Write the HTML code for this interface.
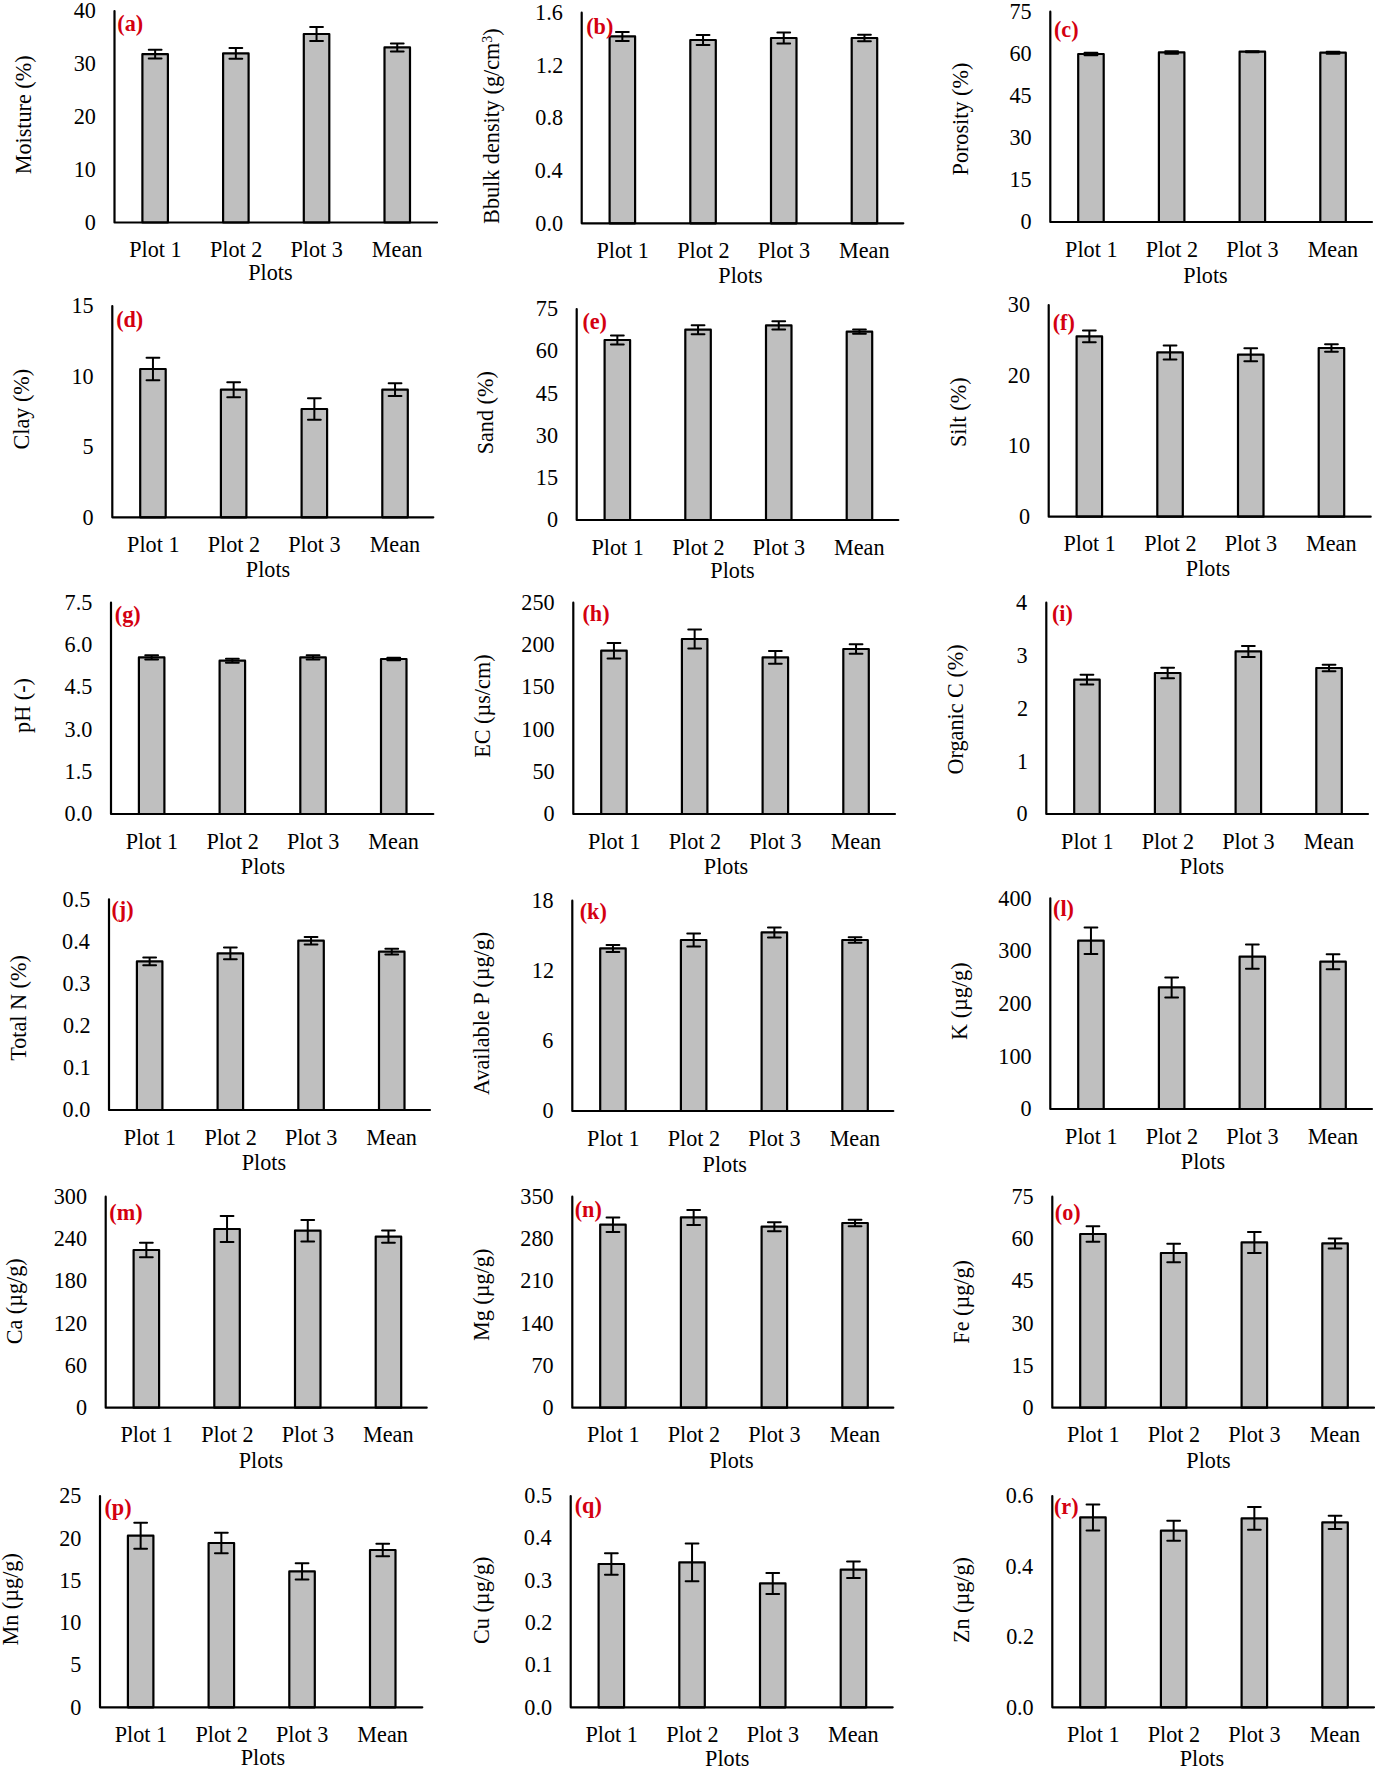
<!DOCTYPE html>
<html><head><meta charset="utf-8"><style>
html,body{margin:0;padding:0;background:#fff;}
svg{display:block;}
text{font-family:"Liberation Serif",serif;font-size:22.2px;fill:#000;}
.lt{font-weight:bold;fill:#d40010;}
.bar{fill:#bfbfbf;stroke:#000;stroke-width:2.2;stroke-linejoin:round;}
.eb{fill:none;stroke:#000;stroke-width:2;stroke-linecap:round;}
.ax{fill:none;stroke:#000;stroke-width:2.2;stroke-linejoin:round;stroke-linecap:round;}
</style></head><body>
<svg width="1378" height="1772" viewBox="0 0 1378 1772">
<text x="84.75" y="229.77">0</text>
<text x="73.65" y="176.9">10</text>
<text x="73.65" y="124.02">20</text>
<text x="73.65" y="71.15">30</text>
<text x="73.65" y="18.27">40</text>
<rect x="142.4" y="54.2" width="25.5" height="168.3" class="bar"/>
<path d="M148.75 49.85H161.55M148.75 58.55H161.55M155.15 49.85V58.55" class="eb"/>
<rect x="223.1" y="53.4" width="25.5" height="169.1" class="bar"/>
<path d="M229.45 48.1H242.25M229.45 58.7H242.25M235.85 48.1V58.7" class="eb"/>
<rect x="303.8" y="34" width="25.5" height="188.5" class="bar"/>
<path d="M310.15 27H322.95M310.15 41H322.95M316.55 27V41" class="eb"/>
<rect x="384.5" y="47.4" width="25.5" height="175.1" class="bar"/>
<path d="M390.85 43.4H403.65M390.85 51.4H403.65M397.25 43.4V51.4" class="eb"/>
<path d="M114.5 11V222.5H437" class="ax"/>
<text x="129.28" y="257">Plot 1</text>
<text x="209.93" y="257">Plot 2</text>
<text x="290.45" y="257">Plot 3</text>
<text x="371.83" y="257">Mean</text>
<text x="248.17" y="280">Plots</text>
<text transform="translate(25.8 115) rotate(-90)" x="-59.33" y="5.34">Moisture (%)</text>
<text class="lt" x="117.36" y="31.24">(a)</text>
<text x="535.3" y="230.52">0.0</text>
<text x="534.8" y="177.87">0.4</text>
<text x="535.3" y="125.22">0.8</text>
<text x="535.67" y="72.54">1.2</text>
<text x="535.11" y="19.89">1.6</text>
<rect x="609.6" y="36.4" width="25.5" height="186.9" class="bar"/>
<path d="M615.95 31.9H628.75M615.95 40.9H628.75M622.35 31.9V40.9" class="eb"/>
<rect x="690.3" y="40" width="25.5" height="183.3" class="bar"/>
<path d="M696.65 35H709.45M696.65 45H709.45M703.05 35V45" class="eb"/>
<rect x="771" y="38" width="25.5" height="185.3" class="bar"/>
<path d="M777.35 32.5H790.15M777.35 43.5H790.15M783.75 32.5V43.5" class="eb"/>
<rect x="851.7" y="38" width="25.5" height="185.3" class="bar"/>
<path d="M858.05 34.8H870.85M858.05 41.2H870.85M864.45 34.8V41.2" class="eb"/>
<path d="M581.7 12.7V223.3H903.3" class="ax"/>
<text x="596.48" y="257.8">Plot 1</text>
<text x="677.13" y="257.8">Plot 2</text>
<text x="757.65" y="257.8">Plot 3</text>
<text x="839.03" y="257.8">Mean</text>
<text x="718.37" y="283">Plots</text>
<text transform="translate(493.8 124.2) rotate(-90)" x="-99.72" y="5.31">Bbulk density (g/cm<tspan font-size="14" dy="-7">3</tspan><tspan dy="7">)</tspan></text>
<text class="lt" x="586.23" y="33.64">(b)</text>
<text x="1020.55" y="229.27">0</text>
<text x="1009.47" y="187.16">15</text>
<text x="1009.45" y="145.15">30</text>
<text x="1009.47" y="103.02">45</text>
<text x="1009.45" y="61.03">60</text>
<text x="1009.47" y="18.86">75</text>
<rect x="1078.2" y="54" width="25.5" height="168" class="bar"/>
<path d="M1084.55 52.65H1097.35M1084.55 55.35H1097.35M1090.95 52.65V55.35" class="eb"/>
<rect x="1158.9" y="52.4" width="25.5" height="169.6" class="bar"/>
<path d="M1165.25 51.15H1178.05M1165.25 53.65H1178.05M1171.65 51.15V53.65" class="eb"/>
<rect x="1239.6" y="51.7" width="25.5" height="170.3" class="bar"/>
<path d="M1245.95 51.2H1258.75M1245.95 52.2H1258.75M1252.35 51.2V52.2" class="eb"/>
<rect x="1320.3" y="52.7" width="25.5" height="169.3" class="bar"/>
<path d="M1326.65 51.7H1339.45M1326.65 53.7H1339.45M1333.05 51.7V53.7" class="eb"/>
<path d="M1050.3 11.7V222H1372" class="ax"/>
<text x="1065.08" y="256.5">Plot 1</text>
<text x="1145.73" y="256.5">Plot 2</text>
<text x="1226.25" y="256.5">Plot 3</text>
<text x="1307.63" y="256.5">Mean</text>
<text x="1183.37" y="282.7">Plots</text>
<text transform="translate(962.2 119.2) rotate(-90)" x="-56.25" y="5.31">Porosity (%)</text>
<text class="lt" x="1053.98" y="36.84">(c)</text>
<text x="82.55" y="524.57">0</text>
<text x="82.57" y="454.03">5</text>
<text x="71.45" y="383.71">10</text>
<text x="71.47" y="313.22">15</text>
<rect x="140.2" y="369" width="25.5" height="148.3" class="bar"/>
<path d="M146.55 357.7H159.35M146.55 380.3H159.35M152.95 357.7V380.3" class="eb"/>
<rect x="220.9" y="389.7" width="25.5" height="127.6" class="bar"/>
<path d="M227.25 382.2H240.05M227.25 397.2H240.05M233.65 382.2V397.2" class="eb"/>
<rect x="301.6" y="409" width="25.5" height="108.3" class="bar"/>
<path d="M307.95 398.35H320.75M307.95 419.65H320.75M314.35 398.35V419.65" class="eb"/>
<rect x="382.3" y="389.7" width="25.5" height="127.6" class="bar"/>
<path d="M388.65 383.35H401.45M388.65 396.05H401.45M395.05 383.35V396.05" class="eb"/>
<path d="M112.3 306V517.3H433.3" class="ax"/>
<text x="127.08" y="551.8">Plot 1</text>
<text x="207.73" y="551.8">Plot 2</text>
<text x="288.25" y="551.8">Plot 3</text>
<text x="369.63" y="551.8">Mean</text>
<text x="245.87" y="576.7">Plots</text>
<text transform="translate(23.7 409.2) rotate(-90)" x="-40.35" y="5.31">Clay (%)</text>
<text class="lt" x="116.13" y="327.04">(d)</text>
<text x="546.95" y="527.27">0</text>
<text x="535.87" y="485.02">15</text>
<text x="535.85" y="442.87">30</text>
<text x="535.87" y="400.6">45</text>
<text x="535.85" y="358.47">60</text>
<text x="535.87" y="316.16">75</text>
<rect x="604.6" y="340" width="25.5" height="180" class="bar"/>
<path d="M610.95 335.5H623.75M610.95 344.5H623.75M617.35 335.5V344.5" class="eb"/>
<rect x="685.3" y="329.7" width="25.5" height="190.3" class="bar"/>
<path d="M691.65 325.2H704.45M691.65 334.2H704.45M698.05 325.2V334.2" class="eb"/>
<rect x="766" y="325.4" width="25.5" height="194.6" class="bar"/>
<path d="M772.35 321.25H785.15M772.35 329.55H785.15M778.75 321.25V329.55" class="eb"/>
<rect x="846.7" y="331.7" width="25.5" height="188.3" class="bar"/>
<path d="M853.05 329.55H865.85M853.05 333.85H865.85M859.45 329.55V333.85" class="eb"/>
<path d="M576.7 309V520H898.3" class="ax"/>
<text x="591.48" y="554.5">Plot 1</text>
<text x="672.13" y="554.5">Plot 2</text>
<text x="752.65" y="554.5">Plot 3</text>
<text x="834.03" y="554.5">Mean</text>
<text x="710.37" y="578.3">Plots</text>
<text transform="translate(487.8 412.5) rotate(-90)" x="-41.87" y="5.34">Sand (%)</text>
<text class="lt" x="582.38" y="329.14">(e)</text>
<text x="1018.95" y="523.97">0</text>
<text x="1007.85" y="453.41">10</text>
<text x="1007.85" y="382.84">20</text>
<text x="1007.85" y="312.27">30</text>
<rect x="1076.6" y="336.4" width="25.5" height="180.3" class="bar"/>
<path d="M1082.95 330.55H1095.75M1082.95 342.25H1095.75M1089.35 330.55V342.25" class="eb"/>
<rect x="1157.3" y="352.4" width="25.5" height="164.3" class="bar"/>
<path d="M1163.65 345.4H1176.45M1163.65 359.4H1176.45M1170.05 345.4V359.4" class="eb"/>
<rect x="1238" y="354.7" width="25.5" height="162" class="bar"/>
<path d="M1244.35 348.2H1257.15M1244.35 361.2H1257.15M1250.75 348.2V361.2" class="eb"/>
<rect x="1318.7" y="348" width="25.5" height="168.7" class="bar"/>
<path d="M1325.05 344.15H1337.85M1325.05 351.85H1337.85M1331.45 344.15V351.85" class="eb"/>
<path d="M1048.7 305V516.7H1370.7" class="ax"/>
<text x="1063.48" y="551.2">Plot 1</text>
<text x="1144.13" y="551.2">Plot 2</text>
<text x="1224.65" y="551.2">Plot 3</text>
<text x="1306.03" y="551.2">Mean</text>
<text x="1185.87" y="576">Plots</text>
<text transform="translate(960.2 412) rotate(-90)" x="-35.09" y="5.34">Silt (%)</text>
<text class="lt" x="1052.71" y="330.45">(f)</text>
<text x="64.6" y="821.22">0.0</text>
<text x="64.62" y="778.91">1.5</text>
<text x="64.6" y="736.7">3.0</text>
<text x="64.62" y="694.37">4.5</text>
<text x="64.6" y="652.18">6.0</text>
<text x="64.62" y="609.81">7.5</text>
<rect x="138.9" y="657.4" width="25.5" height="156.6" class="bar"/>
<path d="M145.25 655.25H158.05M145.25 659.55H158.05M151.65 655.25V659.55" class="eb"/>
<rect x="219.6" y="660.7" width="25.5" height="153.3" class="bar"/>
<path d="M225.95 658.7H238.75M225.95 662.7H238.75M232.35 658.7V662.7" class="eb"/>
<rect x="300.3" y="657.4" width="25.5" height="156.6" class="bar"/>
<path d="M306.65 655.25H319.45M306.65 659.55H319.45M313.05 655.25V659.55" class="eb"/>
<rect x="381" y="659" width="25.5" height="155" class="bar"/>
<path d="M387.35 657.65H400.15M387.35 660.35H400.15M393.75 657.65V660.35" class="eb"/>
<path d="M111 602.7V814H433.3" class="ax"/>
<text x="125.78" y="848.5">Plot 1</text>
<text x="206.43" y="848.5">Plot 2</text>
<text x="286.95" y="848.5">Plot 3</text>
<text x="368.33" y="848.5">Mean</text>
<text x="240.87" y="873.5">Plots</text>
<text transform="translate(25 705.8) rotate(-90)" x="-27.12" y="5.34">pH (-)</text>
<text class="lt" x="114.86" y="621.95">(g)</text>
<text x="543.55" y="821.27">0</text>
<text x="532.45" y="779.01">50</text>
<text x="521.35" y="736.75">100</text>
<text x="521.35" y="694.49">150</text>
<text x="521.35" y="652.23">200</text>
<text x="521.35" y="609.97">250</text>
<rect x="601.2" y="650.7" width="25.5" height="163.3" class="bar"/>
<path d="M607.55 642.9H620.35M607.55 658.5H620.35M613.95 642.9V658.5" class="eb"/>
<rect x="681.9" y="639" width="25.5" height="175" class="bar"/>
<path d="M688.25 629.5H701.05M688.25 648.5H701.05M694.65 629.5V648.5" class="eb"/>
<rect x="762.6" y="657.4" width="25.5" height="156.6" class="bar"/>
<path d="M768.95 651.1H781.75M768.95 663.7H781.75M775.35 651.1V663.7" class="eb"/>
<rect x="843.3" y="649" width="25.5" height="165" class="bar"/>
<path d="M849.65 644.35H862.45M849.65 653.65H862.45M856.05 644.35V653.65" class="eb"/>
<path d="M573.3 602.7V814H895" class="ax"/>
<text x="588.08" y="848.5">Plot 1</text>
<text x="668.73" y="848.5">Plot 2</text>
<text x="749.25" y="848.5">Plot 3</text>
<text x="830.63" y="848.5">Mean</text>
<text x="703.87" y="873.5">Plots</text>
<text transform="translate(485 706.3) rotate(-90)" x="-51.54" y="5.34">EC (µs/cm)</text>
<text class="lt" x="582.43" y="621.14">(h)</text>
<text x="1016.55" y="821.27">0</text>
<text x="1017.03" y="768.5">1</text>
<text x="1016.92" y="715.7">2</text>
<text x="1016.57" y="662.77">3</text>
<text x="1016.05" y="610.01">4</text>
<rect x="1074.2" y="679.7" width="25.5" height="134.3" class="bar"/>
<path d="M1080.55 674.85H1093.35M1080.55 684.55H1093.35M1086.95 674.85V684.55" class="eb"/>
<rect x="1154.9" y="673" width="25.5" height="141" class="bar"/>
<path d="M1161.25 667.7H1174.05M1161.25 678.3H1174.05M1167.65 667.7V678.3" class="eb"/>
<rect x="1235.6" y="651.4" width="25.5" height="162.6" class="bar"/>
<path d="M1241.95 645.9H1254.75M1241.95 656.9H1254.75M1248.35 645.9V656.9" class="eb"/>
<rect x="1316.3" y="668" width="25.5" height="146" class="bar"/>
<path d="M1322.65 664.65H1335.45M1322.65 671.35H1335.45M1329.05 664.65V671.35" class="eb"/>
<path d="M1046.3 602.7V814H1368" class="ax"/>
<text x="1061.08" y="848.5">Plot 1</text>
<text x="1141.73" y="848.5">Plot 2</text>
<text x="1222.25" y="848.5">Plot 3</text>
<text x="1303.63" y="848.5">Mean</text>
<text x="1179.87" y="873.5">Plots</text>
<text transform="translate(957.7 709.2) rotate(-90)" x="-65.31" y="5.31">Organic C (%)</text>
<text class="lt" x="1051.92" y="620.84">(i)</text>
<text x="62.6" y="1117.22">0.0</text>
<text x="63.08" y="1075.08">0.1</text>
<text x="62.97" y="1032.94">0.2</text>
<text x="62.62" y="990.8">0.3</text>
<text x="62.1" y="948.66">0.4</text>
<text x="62.62" y="906.52">0.5</text>
<rect x="136.9" y="961.4" width="25.5" height="148.6" class="bar"/>
<path d="M143.25 957.6H156.05M143.25 965.2H156.05M149.65 957.6V965.2" class="eb"/>
<rect x="217.6" y="953.4" width="25.5" height="156.6" class="bar"/>
<path d="M223.95 947.6H236.75M223.95 959.2H236.75M230.35 947.6V959.2" class="eb"/>
<rect x="298.3" y="940.7" width="25.5" height="169.3" class="bar"/>
<path d="M304.65 936.9H317.45M304.65 944.5H317.45M311.05 936.9V944.5" class="eb"/>
<rect x="379" y="951.7" width="25.5" height="158.3" class="bar"/>
<path d="M385.35 948.85H398.15M385.35 954.55H398.15M391.75 948.85V954.55" class="eb"/>
<path d="M109 899.3V1110H430" class="ax"/>
<text x="123.78" y="1144.5">Plot 1</text>
<text x="204.43" y="1144.5">Plot 2</text>
<text x="284.95" y="1144.5">Plot 3</text>
<text x="366.33" y="1144.5">Mean</text>
<text x="241.67" y="1170">Plots</text>
<text transform="translate(20.3 1007.5) rotate(-90)" x="-53.34" y="5.34">Total N (%)</text>
<text class="lt" x="111.41" y="917.04">(j)</text>
<text x="542.55" y="1118.27">0</text>
<text x="542.36" y="1048.14">6</text>
<text x="531.82" y="978.15">12</text>
<text x="531.45" y="907.97">18</text>
<rect x="600.2" y="948.4" width="25.5" height="162.6" class="bar"/>
<path d="M606.55 944.9H619.35M606.55 951.9H619.35M612.95 944.9V951.9" class="eb"/>
<rect x="680.9" y="940" width="25.5" height="171" class="bar"/>
<path d="M687.25 933.5H700.05M687.25 946.5H700.05M693.65 933.5V946.5" class="eb"/>
<rect x="761.6" y="932.4" width="25.5" height="178.6" class="bar"/>
<path d="M767.95 927.4H780.75M767.95 937.4H780.75M774.35 927.4V937.4" class="eb"/>
<rect x="842.3" y="940" width="25.5" height="171" class="bar"/>
<path d="M848.65 937.2H861.45M848.65 942.8H861.45M855.05 937.2V942.8" class="eb"/>
<path d="M572.3 900.7V1111H893.3" class="ax"/>
<text x="587.08" y="1145.5">Plot 1</text>
<text x="667.73" y="1145.5">Plot 2</text>
<text x="748.25" y="1145.5">Plot 3</text>
<text x="829.63" y="1145.5">Mean</text>
<text x="702.57" y="1171.7">Plots</text>
<text transform="translate(484 1012.5) rotate(-90)" x="-82.46" y="5.31">Available P (µg/g)</text>
<text class="lt" x="579.73" y="918.64">(k)</text>
<text x="1020.55" y="1116.27">0</text>
<text x="998.35" y="1063.6">100</text>
<text x="998.35" y="1010.92">200</text>
<text x="998.35" y="958.25">300</text>
<text x="998.35" y="905.57">400</text>
<rect x="1078.2" y="940.7" width="25.5" height="168.3" class="bar"/>
<path d="M1084.55 927.4H1097.35M1084.55 954H1097.35M1090.95 927.4V954" class="eb"/>
<rect x="1158.9" y="987.4" width="25.5" height="121.6" class="bar"/>
<path d="M1165.25 977.4H1178.05M1165.25 997.4H1178.05M1171.65 977.4V997.4" class="eb"/>
<rect x="1239.6" y="956.7" width="25.5" height="152.3" class="bar"/>
<path d="M1245.95 944.55H1258.75M1245.95 968.85H1258.75M1252.35 944.55V968.85" class="eb"/>
<rect x="1320.3" y="961.7" width="25.5" height="147.3" class="bar"/>
<path d="M1326.65 954.2H1339.45M1326.65 969.2H1339.45M1333.05 954.2V969.2" class="eb"/>
<path d="M1050.3 898.3V1109H1372" class="ax"/>
<text x="1065.08" y="1143.5">Plot 1</text>
<text x="1145.73" y="1143.5">Plot 2</text>
<text x="1226.25" y="1143.5">Plot 3</text>
<text x="1307.63" y="1143.5">Mean</text>
<text x="1180.87" y="1169.3">Plots</text>
<text transform="translate(961.7 1001.3) rotate(-90)" x="-38.6" y="5.31">K (µg/g)</text>
<text class="lt" x="1053.02" y="916.04">(l)</text>
<text x="75.95" y="1414.97">0</text>
<text x="64.85" y="1372.77">60</text>
<text x="53.75" y="1330.57">120</text>
<text x="53.75" y="1288.37">180</text>
<text x="53.75" y="1246.17">240</text>
<text x="53.75" y="1203.97">300</text>
<rect x="133.6" y="1250" width="25.5" height="157.7" class="bar"/>
<path d="M139.95 1242.7H152.75M139.95 1257.3H152.75M146.35 1242.7V1257.3" class="eb"/>
<rect x="214.3" y="1229" width="25.5" height="178.7" class="bar"/>
<path d="M220.65 1216H233.45M220.65 1242H233.45M227.05 1216V1242" class="eb"/>
<rect x="295" y="1230.7" width="25.5" height="177" class="bar"/>
<path d="M301.35 1220H314.15M301.35 1241.4H314.15M307.75 1220V1241.4" class="eb"/>
<rect x="375.7" y="1236.7" width="25.5" height="171" class="bar"/>
<path d="M382.05 1230.55H394.85M382.05 1242.85H394.85M388.45 1230.55V1242.85" class="eb"/>
<path d="M105.7 1196.7V1407.7H426.7" class="ax"/>
<text x="120.48" y="1442.2">Plot 1</text>
<text x="201.13" y="1442.2">Plot 2</text>
<text x="281.65" y="1442.2">Plot 3</text>
<text x="363.03" y="1442.2">Mean</text>
<text x="238.67" y="1468.3">Plots</text>
<text transform="translate(17 1301.3) rotate(-90)" x="-43.05" y="5.31">Ca (µg/g)</text>
<text class="lt" x="109.36" y="1219.54">(m)</text>
<text x="542.55" y="1414.97">0</text>
<text x="531.45" y="1372.77">70</text>
<text x="520.35" y="1330.57">140</text>
<text x="520.35" y="1288.37">210</text>
<text x="520.35" y="1246.17">280</text>
<text x="520.35" y="1203.97">350</text>
<rect x="600.2" y="1224.7" width="25.5" height="183" class="bar"/>
<path d="M606.55 1217.5H619.35M606.55 1231.9H619.35M612.95 1217.5V1231.9" class="eb"/>
<rect x="680.9" y="1217.4" width="25.5" height="190.3" class="bar"/>
<path d="M687.25 1209.9H700.05M687.25 1224.9H700.05M693.65 1209.9V1224.9" class="eb"/>
<rect x="761.6" y="1226.7" width="25.5" height="181" class="bar"/>
<path d="M767.95 1222.2H780.75M767.95 1231.2H780.75M774.35 1222.2V1231.2" class="eb"/>
<rect x="842.3" y="1223" width="25.5" height="184.7" class="bar"/>
<path d="M848.65 1219.65H861.45M848.65 1226.35H861.45M855.05 1219.65V1226.35" class="eb"/>
<path d="M572.3 1196.7V1407.7H893.3" class="ax"/>
<text x="587.08" y="1442.2">Plot 1</text>
<text x="667.73" y="1442.2">Plot 2</text>
<text x="748.25" y="1442.2">Plot 3</text>
<text x="829.63" y="1442.2">Mean</text>
<text x="709.17" y="1468.3">Plots</text>
<text transform="translate(484 1295) rotate(-90)" x="-46" y="5.31">Mg (µg/g)</text>
<text class="lt" x="574.73" y="1217.04">(n)</text>
<text x="1022.55" y="1414.97">0</text>
<text x="1011.47" y="1372.72">15</text>
<text x="1011.45" y="1330.57">30</text>
<text x="1011.47" y="1288.3">45</text>
<text x="1011.45" y="1246.17">60</text>
<text x="1011.47" y="1203.86">75</text>
<rect x="1080.2" y="1234" width="25.5" height="173.7" class="bar"/>
<path d="M1086.55 1226.35H1099.35M1086.55 1241.65H1099.35M1092.95 1226.35V1241.65" class="eb"/>
<rect x="1160.9" y="1253" width="25.5" height="154.7" class="bar"/>
<path d="M1167.25 1243.8H1180.05M1167.25 1262.2H1180.05M1173.65 1243.8V1262.2" class="eb"/>
<rect x="1241.6" y="1242.4" width="25.5" height="165.3" class="bar"/>
<path d="M1247.95 1231.9H1260.75M1247.95 1252.9H1260.75M1254.35 1231.9V1252.9" class="eb"/>
<rect x="1322.3" y="1243.4" width="25.5" height="164.3" class="bar"/>
<path d="M1328.65 1238.4H1341.45M1328.65 1248.4H1341.45M1335.05 1238.4V1248.4" class="eb"/>
<path d="M1052.3 1196.7V1407.7H1374" class="ax"/>
<text x="1067.08" y="1442.2">Plot 1</text>
<text x="1147.73" y="1442.2">Plot 2</text>
<text x="1228.25" y="1442.2">Plot 3</text>
<text x="1309.63" y="1442.2">Mean</text>
<text x="1186.37" y="1468.3">Plots</text>
<text transform="translate(964 1302) rotate(-90)" x="-41.68" y="5.31">Fe (µg/g)</text>
<text class="lt" x="1054.76" y="1219.64">(o)</text>
<text x="70.25" y="1714.57">0</text>
<text x="70.27" y="1672.2">5</text>
<text x="59.15" y="1630.05">10</text>
<text x="59.17" y="1587.74">15</text>
<text x="59.15" y="1545.53">20</text>
<text x="59.17" y="1503.24">25</text>
<rect x="127.9" y="1535.7" width="25.5" height="171.6" class="bar"/>
<path d="M134.25 1522.7H147.05M134.25 1548.7H147.05M140.65 1522.7V1548.7" class="eb"/>
<rect x="208.6" y="1543" width="25.5" height="164.3" class="bar"/>
<path d="M214.95 1532.7H227.75M214.95 1553.3H227.75M221.35 1532.7V1553.3" class="eb"/>
<rect x="289.3" y="1571.4" width="25.5" height="135.9" class="bar"/>
<path d="M295.65 1563.25H308.45M295.65 1579.55H308.45M302.05 1563.25V1579.55" class="eb"/>
<rect x="370" y="1550" width="25.5" height="157.3" class="bar"/>
<path d="M376.35 1543.8H389.15M376.35 1556.2H389.15M382.75 1543.8V1556.2" class="eb"/>
<path d="M100 1496V1707.3H422.3" class="ax"/>
<text x="114.78" y="1741.8">Plot 1</text>
<text x="195.43" y="1741.8">Plot 2</text>
<text x="275.95" y="1741.8">Plot 3</text>
<text x="357.33" y="1741.8">Mean</text>
<text x="240.67" y="1765">Plots</text>
<text transform="translate(13 1599.5) rotate(-90)" x="-46" y="5.31">Mn (µg/g)</text>
<text class="lt" x="104.43" y="1514.54">(p)</text>
<text x="524.3" y="1714.52">0.0</text>
<text x="524.78" y="1672.26">0.1</text>
<text x="524.67" y="1630">0.2</text>
<text x="524.32" y="1587.74">0.3</text>
<text x="523.8" y="1545.48">0.4</text>
<text x="524.32" y="1503.22">0.5</text>
<rect x="598.6" y="1564" width="25.5" height="143.3" class="bar"/>
<path d="M604.95 1553.35H617.75M604.95 1574.65H617.75M611.35 1553.35V1574.65" class="eb"/>
<rect x="679.3" y="1562.4" width="25.5" height="144.9" class="bar"/>
<path d="M685.65 1543.55H698.45M685.65 1581.25H698.45M692.05 1543.55V1581.25" class="eb"/>
<rect x="760" y="1583.4" width="25.5" height="123.9" class="bar"/>
<path d="M766.35 1572.9H779.15M766.35 1593.9H779.15M772.75 1572.9V1593.9" class="eb"/>
<rect x="840.7" y="1569.7" width="25.5" height="137.6" class="bar"/>
<path d="M847.05 1561.4H859.85M847.05 1578H859.85M853.45 1561.4V1578" class="eb"/>
<path d="M570.7 1496V1707.3H892.7" class="ax"/>
<text x="585.48" y="1741.8">Plot 1</text>
<text x="666.13" y="1741.8">Plot 2</text>
<text x="746.65" y="1741.8">Plot 3</text>
<text x="828.03" y="1741.8">Mean</text>
<text x="705.07" y="1766">Plots</text>
<text transform="translate(483.7 1600.3) rotate(-90)" x="-43.67" y="5.31">Cu (µg/g)</text>
<text class="lt" x="574.73" y="1512.54">(q)</text>
<text x="1005.9" y="1714.52">0.0</text>
<text x="1006.27" y="1644.09">0.2</text>
<text x="1005.4" y="1573.66">0.4</text>
<text x="1005.71" y="1503.22">0.6</text>
<rect x="1080.2" y="1517.4" width="25.5" height="189.9" class="bar"/>
<path d="M1086.55 1504.4H1099.35M1086.55 1530.4H1099.35M1092.95 1504.4V1530.4" class="eb"/>
<rect x="1160.9" y="1530.7" width="25.5" height="176.6" class="bar"/>
<path d="M1167.25 1520.7H1180.05M1167.25 1540.7H1180.05M1173.65 1520.7V1540.7" class="eb"/>
<rect x="1241.6" y="1518.4" width="25.5" height="188.9" class="bar"/>
<path d="M1247.95 1507.1H1260.75M1247.95 1529.7H1260.75M1254.35 1507.1V1529.7" class="eb"/>
<rect x="1322.3" y="1522.4" width="25.5" height="184.9" class="bar"/>
<path d="M1328.65 1515.75H1341.45M1328.65 1529.05H1341.45M1335.05 1515.75V1529.05" class="eb"/>
<path d="M1052.3 1496V1707.3H1374" class="ax"/>
<text x="1067.08" y="1741.8">Plot 1</text>
<text x="1147.73" y="1741.8">Plot 2</text>
<text x="1228.25" y="1741.8">Plot 3</text>
<text x="1309.63" y="1741.8">Mean</text>
<text x="1179.67" y="1766">Plots</text>
<text transform="translate(964 1600) rotate(-90)" x="-43.12" y="5.31">Zn (µg/g)</text>
<text class="lt" x="1053.98" y="1513.64">(r)</text>
</svg>
</body></html>
